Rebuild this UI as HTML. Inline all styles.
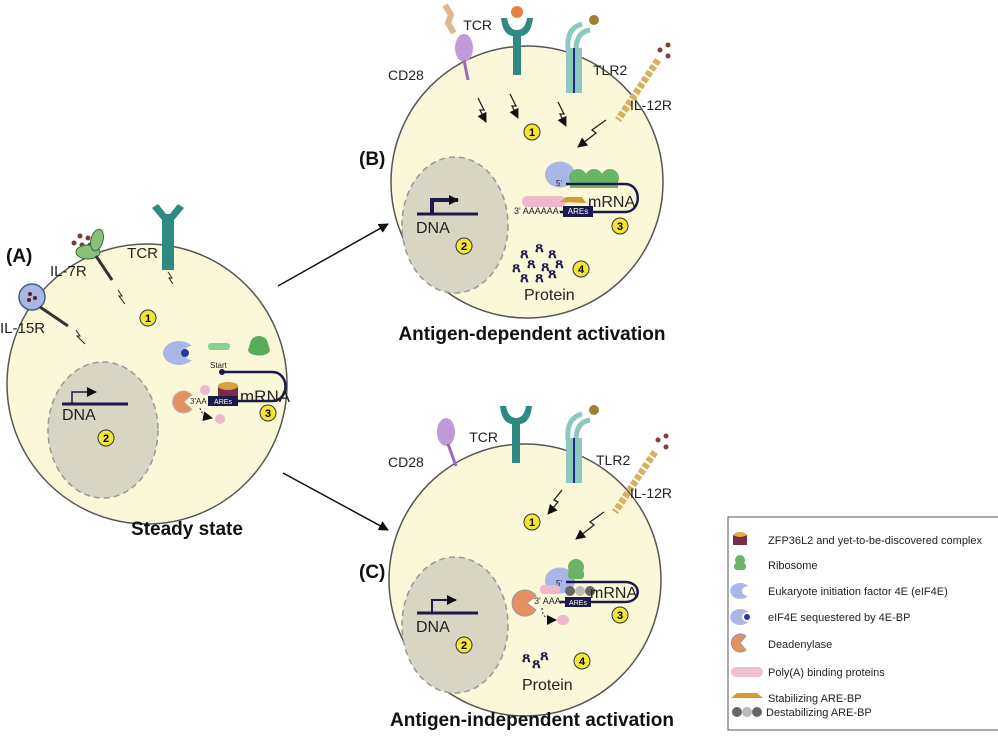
<!DOCTYPE html>
<html><head><meta charset="utf-8"><style>
html,body{margin:0;padding:0;background:#fff;}
svg{display:block;font-family:"Liberation Sans",sans-serif;}
</style></head><body>
<svg width="998" height="740" viewBox="0 0 998 740" xmlns="http://www.w3.org/2000/svg">
<defs>
<marker id="ar" markerWidth="10" markerHeight="10" refX="9" refY="5" orient="auto" markerUnits="userSpaceOnUse"><path d="M0,0 L10,5 L0,10 z" fill="#111"/></marker>
<g id="num"><circle r="8" fill="#f3e53a" stroke="#333" stroke-width="1"/></g>
<g id="tcr"><rect x="-4" y="0" width="8" height="45" fill="#2e8a82"/><path d="M-16,-12 Q-14,8 0,6 Q14,8 16,-12 L10,-12 Q8,0 0,0 Q-8,0 -10,-12z" fill="#2e8a82"/></g>
<g id="bolt"><path d="M0,0 L6,12 L2,12 L8,24" fill="none" stroke="#222" stroke-width="1.3" marker-end="url(#ar)"/></g>
</defs>
<rect width="998" height="740" fill="#fff"/>

<line x1="278" y1="286" x2="388" y2="224" stroke="#111" stroke-width="1.5" marker-end="url(#ar)"/>
<line x1="283" y1="473" x2="388" y2="530" stroke="#111" stroke-width="1.5" marker-end="url(#ar)"/>

<!-- CELL A -->
<circle cx="147" cy="384" r="140" fill="#fbf8d9" stroke="#555" stroke-width="1.5"/>
<ellipse cx="103" cy="430" rx="55" ry="68" fill="#d8d5c4" stroke="#999" stroke-width="1.5" stroke-dasharray="6,4"/>
<line x1="62" y1="404" x2="128" y2="404" stroke="#1b1a4a" stroke-width="3"/>
<path d="M72,404 V392 H96" fill="none" stroke="#1b1a4a" stroke-width="1.5" marker-end="url(#ar)"/>
<text x="62" y="420" font-size="16" fill="#222">DNA</text>
<use href="#num" x="106" y="438"/><text x="106" y="442" font-size="11" font-weight="bold" text-anchor="middle">2</text>
<use href="#num" x="148" y="318"/><text x="148" y="322" font-size="11" font-weight="bold" text-anchor="middle">1</text>
<use href="#num" x="268" y="413"/><text x="268" y="417" font-size="11" font-weight="bold" text-anchor="middle">3</text>
<path d="M152,208 l6,-4 l8,10 h4 l8,-10 l6,4 l-10,12 v50 h-12 v-50z" fill="#2e8a82"/>
<text x="158" y="258" font-size="15" text-anchor="end" fill="#222">TCR</text>
<path d="M168,272 l4,6 l-3,0 l4,6" fill="none" stroke="#222"/>
<circle cx="80" cy="236" r="2.5" fill="#7a3a3a"/><circle cx="88" cy="238" r="2.5" fill="#7a3a3a"/><circle cx="74" cy="243" r="2.5" fill="#7a3a3a"/><circle cx="82" cy="245" r="2.5" fill="#7a3a3a"/><circle cx="90" cy="245" r="2.5" fill="#7a3a3a"/>
<ellipse cx="88" cy="252" rx="12" ry="7" fill="#8cc07a" stroke="#3a6a3a"/>
<ellipse cx="97" cy="240" rx="6" ry="11" fill="#8cc07a" stroke="#3a6a3a" transform="rotate(15 97 240)"/>
<line x1="96" y1="256" x2="112" y2="280" stroke="#333" stroke-width="3"/>
<text x="50" y="276" font-size="15" fill="#222">IL-7R</text>
<path d="M118,290 l4,6 l-3,0 l6,8" fill="none" stroke="#222"/>
<circle cx="32" cy="297" r="13" fill="#a8b8e0" stroke="#4a5a8a" stroke-width="1.5"/>
<circle cx="30" cy="294" r="2" fill="#5a1a3a"/><circle cx="35" cy="298" r="2" fill="#5a1a3a"/><circle cx="29" cy="300" r="2" fill="#5a1a3a"/>
<line x1="40" y1="307" x2="68" y2="326" stroke="#333" stroke-width="3"/>
<text x="0" y="333" font-size="15" fill="#222">IL-15R</text>
<path d="M76,330 l4,6 l-3,0 l8,8" fill="none" stroke="#222"/>
<text x="6" y="262" font-size="19" font-weight="bold" fill="#111">(A)</text>
<!-- translation A -->
<path d="M192,346 a16,12 0 1 0 0,14 a8,7 0 0 1 0,-14z" fill="#a9b6e6"/>
<circle cx="185" cy="353" r="4" fill="#2a3a9a"/>
<rect x="208" y="343" width="22" height="7" rx="3" fill="#8ccf8c"/>
<path d="M250,344 a9,8 0 1 1 18,0 l2,6 a10,5 0 0 1 -22,0z" fill="#5aaa5a"/>
<text x="210" y="368" font-size="8" fill="#222">Start</text>
<circle cx="222" cy="372" r="3" fill="#1b1a4a"/>
<path d="M222,372 L272,372 C290,372 290,401 272,401 L238,401" fill="none" stroke="#1b1a4a" stroke-width="2.5"/>
<rect x="218" y="386" width="20" height="11" fill="#7a2a4a"/><ellipse cx="228" cy="386" rx="10" ry="4" fill="#d8a040"/>
<text x="240" y="402" font-size="17" fill="#222">mRNA</text>
<rect x="208" y="396" width="30" height="10" fill="#1b1a4a"/><text x="223" y="404" font-size="7" fill="#fff" text-anchor="middle">AREs</text>
<circle cx="205" cy="390" r="5" fill="#f0b8cc"/>
<text x="190" y="404" font-size="8" fill="#222">3'AA</text>
<path d="M192,395 a11,11 0 1 0 0,14 l-8,-7z" fill="#e59060" stroke="#bbb"/>
<path d="M200,408 q2,8 12,10" fill="none" stroke="#222" stroke-dasharray="2,2" marker-end="url(#ar)"/>
<circle cx="220" cy="419" r="5" fill="#f0b8cc"/>
<text x="187" y="535" font-size="19" font-weight="bold" text-anchor="middle" fill="#111">Steady state</text>

<!-- CELL B -->
<circle cx="527" cy="182" r="136" fill="#fbf8d9" stroke="#555" stroke-width="1.5"/>
<ellipse cx="455" cy="225" rx="53" ry="68" fill="#d8d5c4" stroke="#999" stroke-width="1.5" stroke-dasharray="6,4"/>
<line x1="417" y1="214" x2="478" y2="214" stroke="#1b1a4a" stroke-width="3"/>
<path d="M432,214 V200 H458" fill="none" stroke="#1b1a4a" stroke-width="4" marker-end="url(#ar)"/>
<text x="416" y="233" font-size="16" fill="#222">DNA</text>
<use href="#num" x="464" y="246"/><text x="464" y="250" font-size="11" font-weight="bold" text-anchor="middle">2</text>
<use href="#num" x="532" y="132"/><text x="532" y="136" font-size="11" font-weight="bold" text-anchor="middle">1</text>
<use href="#num" x="620" y="226"/><text x="620" y="230" font-size="11" font-weight="bold" text-anchor="middle">3</text>
<use href="#num" x="581" y="269"/><text x="581" y="273" font-size="11" font-weight="bold" text-anchor="middle">4</text>
<text x="359" y="165" font-size="19" font-weight="bold" fill="#111">(B)</text>
<use href="#tcr" x="517" y="30"/><circle cx="517" cy="12" r="6" fill="#e88040"/>
<text x="492" y="30" font-size="14" text-anchor="end" fill="#222">TCR</text>
<ellipse cx="464" cy="48" rx="9" ry="14" fill="#c09ad8"/><line x1="464" y1="60" x2="468" y2="80" stroke="#9a6ab8" stroke-width="3"/>
<path d="M445,5 l6,10 l-3,8 l6,10" stroke="#e0b890" stroke-width="6" fill="none"/>
<text x="388" y="80" font-size="14" fill="#222">CD28</text>
<path d="M568,50 q-2,-22 14,-26 M576,50 q0,-18 14,-20" stroke="#8cc8c0" stroke-width="5" fill="none"/>
<rect x="566" y="48" width="16" height="45" fill="#8cc8c0"/><line x1="574" y1="48" x2="574" y2="93" stroke="#2a2a7a" stroke-width="2"/>
<circle cx="594" cy="20" r="5" fill="#a08030"/>
<text x="593" y="75" font-size="14" fill="#222">TLR2</text>
<path d="M658,60 l-40,60" stroke="#d8b060" stroke-width="7" stroke-dasharray="5,2" fill="none"/>
<circle cx="660" cy="50" r="2.5" fill="#8a3a3a"/><circle cx="668" cy="45" r="2.5" fill="#8a3a3a"/><circle cx="668" cy="56" r="2.5" fill="#8a3a3a"/>
<text x="630" y="110" font-size="14" fill="#222">IL-12R</text>
<use href="#bolt" x="478" y="98"/><use href="#bolt" x="510" y="94"/><use href="#bolt" x="558" y="102"/>
<path d="M606,120 l-14,10 l4,3 l-18,14" fill="none" stroke="#222" stroke-width="1.3" marker-end="url(#ar)"/>
<path d="M545,174 a15,13 0 1 1 0,1z" fill="#a9b6e6"/>
<rect x="522" y="196" width="44" height="11" rx="5" fill="#f0b8cc"/>
<circle cx="578" cy="178" r="9" fill="#6ab46a"/><circle cx="594" cy="178" r="9" fill="#6ab46a"/><circle cx="610" cy="178" r="9" fill="#6ab46a"/>
<rect x="570" y="178" width="48" height="10" fill="#6ab46a"/>
<text x="556" y="186" font-size="8" fill="#222">5'</text>
<path d="M566,184 L625,184 C642,184 642,212 625,212 L560,212" fill="none" stroke="#1b1a4a" stroke-width="2.5"/>
<path d="M560,202 l6,-5 h16 l4,6 z" fill="#d99a30"/>
<text x="588" y="207" font-size="16" fill="#222">mRNA</text>
<rect x="563" y="206" width="30" height="11" fill="#1b1a4a"/><text x="578" y="214" font-size="8" fill="#fff" text-anchor="middle">AREs</text>
<text x="514" y="214" font-size="9" fill="#222">3' AAAAAA-</text>
<g fill="#1b1a4a" font-size="15" font-weight="bold">
<text x="520" y="258">ጸ</text><text x="535" y="252">ጸ</text><text x="548" y="258">ጸ</text><text x="512" y="272">ጸ</text><text x="527" y="268">ጸ</text><text x="541" y="271">ጸ</text><text x="555" y="268">ጸ</text><text x="520" y="282">ጸ</text><text x="535" y="282">ጸ</text><text x="548" y="278">ጸ</text>
</g>
<text x="524" y="300" font-size="16" fill="#222">Protein</text>
<text x="532" y="340" font-size="19" font-weight="bold" text-anchor="middle" fill="#111">Antigen-dependent activation</text>

<!-- CELL C -->
<circle cx="525" cy="580" r="136" fill="#fbf8d9" stroke="#555" stroke-width="1.5"/>
<ellipse cx="455" cy="625" rx="53" ry="68" fill="#d8d5c4" stroke="#999" stroke-width="1.5" stroke-dasharray="6,4"/>
<line x1="417" y1="613" x2="478" y2="613" stroke="#1b1a4a" stroke-width="3"/>
<path d="M432,613 V600 H456" fill="none" stroke="#1b1a4a" stroke-width="2" marker-end="url(#ar)"/>
<text x="416" y="632" font-size="16" fill="#222">DNA</text>
<use href="#num" x="464" y="645"/><text x="464" y="649" font-size="11" font-weight="bold" text-anchor="middle">2</text>
<use href="#num" x="532" y="522"/><text x="532" y="526" font-size="11" font-weight="bold" text-anchor="middle">1</text>
<use href="#num" x="620" y="615"/><text x="620" y="619" font-size="11" font-weight="bold" text-anchor="middle">3</text>
<use href="#num" x="582" y="661"/><text x="582" y="665" font-size="11" font-weight="bold" text-anchor="middle">4</text>
<text x="359" y="578" font-size="19" font-weight="bold" fill="#111">(C)</text>
<use href="#tcr" x="516" y="418"/>
<text x="498" y="442" font-size="14" text-anchor="end" fill="#222">TCR</text>
<ellipse cx="446" cy="432" rx="9" ry="14" fill="#c09ad8"/><line x1="448" y1="444" x2="456" y2="466" stroke="#9a6ab8" stroke-width="3"/>
<text x="388" y="467" font-size="14" fill="#222">CD28</text>
<path d="M568,440 q-2,-22 14,-26 M576,440 q0,-18 14,-20" stroke="#8cc8c0" stroke-width="5" fill="none"/>
<rect x="566" y="438" width="16" height="45" fill="#8cc8c0"/><line x1="574" y1="438" x2="574" y2="483" stroke="#2a2a7a" stroke-width="2"/>
<circle cx="594" cy="410" r="5" fill="#a08030"/>
<text x="596" y="465" font-size="14" fill="#222">TLR2</text>
<path d="M655,452 l-40,60" stroke="#d8b060" stroke-width="7" stroke-dasharray="5,2" fill="none"/>
<circle cx="658" cy="440" r="2.5" fill="#8a3a3a"/><circle cx="666" cy="436" r="2.5" fill="#8a3a3a"/><circle cx="666" cy="447" r="2.5" fill="#8a3a3a"/>
<text x="630" y="498" font-size="14" fill="#222">IL-12R</text>
<path d="M562,490 l-8,10 l4,2 l-10,12" fill="none" stroke="#222" stroke-width="1.3" marker-end="url(#ar)"/>
<path d="M604,512 l-14,10 l4,3 l-18,14" fill="none" stroke="#222" stroke-width="1.3" marker-end="url(#ar)"/>
<path d="M545,580 a15,13 0 1 1 0,1z" fill="#a9b6e6"/>
<circle cx="576" cy="567" r="8" fill="#6ab46a"/><rect x="568" y="570" width="16" height="9" rx="3" fill="#6ab46a"/>
<text x="556" y="586" font-size="8" fill="#222">5'</text>
<path d="M566,582 L625,582 C642,582 642,602 625,602 L560,602" fill="none" stroke="#1b1a4a" stroke-width="2.5"/>
<circle cx="570" cy="591" r="5" fill="#666"/><circle cx="580" cy="591" r="5" fill="#bbb"/><circle cx="590" cy="591" r="5" fill="#666"/>
<text x="590" y="598" font-size="16" fill="#222">mRNA</text>
<rect x="565" y="597" width="26" height="10" fill="#1b1a4a"/><text x="578" y="605" font-size="7" fill="#fff" text-anchor="middle">AREs</text>
<rect x="540" y="585" width="20" height="9" rx="4" fill="#f0b8cc"/>
<text x="534" y="604" font-size="9" fill="#222">3' AAA-</text>
<path d="M528,603 m8,-7 a13,13 0 1 0 0,14 l-9,-7z" fill="#e59060" stroke="#999"/>
<path d="M542,608 q0,12 14,12" fill="none" stroke="#222" stroke-dasharray="2,2" marker-end="url(#ar)"/>
<rect x="557" y="615" width="12" height="10" rx="5" fill="#f0b8cc"/>
<g fill="#1b1a4a" font-size="15" font-weight="bold"><text x="522" y="662">ጸ</text><text x="532" y="668">ጸ</text><text x="540" y="660">ጸ</text></g>
<text x="522" y="690" font-size="16" fill="#222">Protein</text>
<text x="532" y="726" font-size="19" font-weight="bold" text-anchor="middle" fill="#111">Antigen-independent activation</text>

<!-- LEGEND -->
<rect x="728" y="517" width="280" height="213" fill="#fff" stroke="#555" stroke-width="1"/>
<g font-size="11" fill="#222">
<path d="M733,535 q7,-6 14,0 v10 h-14z" fill="#7a2a4a"/><path d="M733,535 q7,-6 14,0 q-7,4 -14,0z" fill="#e0b040"/>
<text x="768" y="544">ZFP36L2 and yet-to-be-discovered complex</text>
<circle cx="740" cy="560" r="5" fill="#6ab46a"/><rect x="734" y="563" width="12" height="7" rx="3" fill="#6ab46a"/>
<text x="768" y="569">Ribosome</text>
<path d="M748,586 a10,8 0 1 0 0,10 a6,5 0 0 1 0,-10z" fill="#a9b6e6"/>
<text x="768" y="595">Eukaryote initiation factor 4E (eIF4E)</text>
<path d="M748,612 a10,8 0 1 0 0,10 a6,5 0 0 1 0,-10z" fill="#a9b6e6"/><circle cx="747" cy="617" r="3" fill="#2a3a9a"/>
<text x="768" y="621">eIF4E sequestered by 4E-BP</text>
<path d="M746,636 a9,9 0 1 0 0,14 l-6,-7z" fill="#e59060" stroke="#999"/>
<text x="768" y="648">Deadenylase</text>
<rect x="731" y="667" width="32" height="10" rx="5" fill="#f0c0d0"/>
<text x="768" y="676">Poly(A) binding proteins</text>
<path d="M731,698 l6,-5 h20 l6,5z" fill="#d99a30"/>
<text x="768" y="702">Stabilizing ARE-BP</text>
<circle cx="737" cy="712" r="5" fill="#666"/><circle cx="747" cy="712" r="5" fill="#bbb"/><circle cx="757" cy="712" r="5" fill="#666"/>
<text x="766" y="716">Destabilizing ARE-BP</text>
</g>
</svg>
</body></html>
